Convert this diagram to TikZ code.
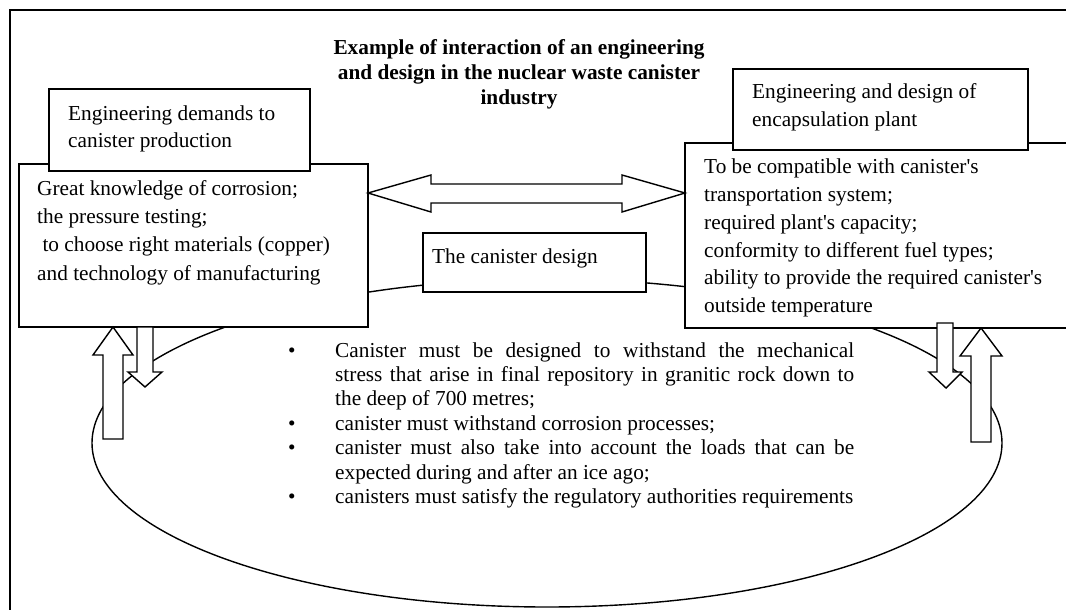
\documentclass[tikz,border=0pt]{standalone}
\usepackage{fontspec}
\setmainfont{Liberation Serif}[Ligatures=TeXOff]
\usetikzlibrary{calc}
\begin{document}
\begin{tikzpicture}[x=1pt,y=-1pt,
  box/.style={draw,fill=white,line width=1.4pt,inner sep=0pt,outer sep=0pt,anchor=north west},
  txt/.style={inner sep=0pt,anchor=north west,align=left},
  body/.style={font=\fontsize{21.3}{28.3}\selectfont},
  blk/.style={draw,fill=white,line width=1.4pt,line join=miter},
  ]
\useasboundingbox (0,0) rectangle (1066,610);
\clip (0,0) rectangle (1066,610);
\fill[white] (0,0) rectangle (1066,610);

% outer frame
\draw[line width=2pt] (1080,10) -- (10,10) -- (10,620);

% loop joining the three parties
\draw[line width=1.4pt] (547,443) ellipse [x radius=455, y radius=164];

% boxes
\node[box,minimum width=349pt,minimum height=163pt] (prod) at (19,164) {};
\node[box,minimum width=261pt,minimum height=82pt] (prodhead) at (49,89) {};
\node[box,minimum width=400pt,minimum height=185pt] (plant) at (685,143) {};
\node[box,minimum width=295pt,minimum height=81pt] (planthead) at (733,69) {};
\node[box,minimum width=223pt,minimum height=59pt] (design) at (423,233) {};

% double block arrow between the two parties
\coordinate (tipL) at (prod.east |- 0,193);
\coordinate (tipR) at (plant.west |- 0,193);
\draw[blk] (tipL) -- ++(63,-18) -- ++(0,9) -- ($(tipR)+(-63,-9)$) -- ++(0,-9)
  -- (tipR) -- ++(-63,19) -- ++(0,-9) -- ($(tipL)+(63,10)$) -- ++(0,9) -- cycle;

% block arrows at the left box
\coordinate (lup) at (prod.south -| 113,0);
\draw[blk] (lup) -- ++(20,28) -- ++(-10,0) -- ++(0,84) -- ++(-20,0) -- ++(0,-84) -- ++(-10,0) -- cycle;
\coordinate (ldown) at (prod.south -| 137,0);
\draw[blk] (ldown) -- ++(16,0) -- ++(0,45) -- ++(9,0) -- ++(-17,15) -- ++(-17,-15) -- ++(9,0) -- cycle;

% block arrows at the right box
\coordinate (rdown) at ($(plant.south -| 937,0)+(0,-5)$);
\draw[blk] (rdown) -- ++(16,0) -- ++(0,49) -- ++(9,0) -- ++(-16,16) -- ++(-17,-16) -- ++(8,0) -- cycle;
\coordinate (rup) at (plant.south -| 981,0);
\draw[blk] (rup) -- ++(21,28) -- ++(-11,0) -- ++(0,86) -- ++(-20,0) -- ++(0,-86) -- ++(-11,0) -- cycle;

% texts
\node[txt,anchor=north,align=center,font=\bfseries\fontsize{21.3}{25}\selectfont] (title) at (519,36.5)
  {\strut Example of interaction of an engineering\\and design in the nuclear waste canister\\industry};

\node[txt,font=\fontsize{21.3}{27.5}\selectfont] (prodheadtext) at (68,100.75)
  {\strut Engineering demands to\\canister production};

\node[txt,body] (prodtext) at (37,175.2)
  {\strut Great knowledge of corrosion;\\the pressure testing;\\\hspace*{5.3pt}to choose right materials (copper)\\and technology of manufacturing};

\node[txt,font=\fontsize{21.3}{28}\selectfont] (plantheadtext) at (752,78.4)
  {\strut Engineering and design of\\encapsulation plant};

\node[txt,font=\fontsize{21.3}{27.8}\selectfont] (planttext) at (704,154)
  {\strut To be compatible with canister's\\transportation system;\\required plant's capacity;\\conformity to different fuel types;\\ability to provide the required canister's\\outside temperature};

\node[inner sep=0pt,anchor=base west,body] (designtext) at (432,263) {The canister design};

\node[txt,font=\fontsize{21.3}{24.4}\selectfont] (reqs) at (288,339.9)
  {\strut\makebox[47pt][l]{•}\makebox[519pt][s]{Canister must be designed to withstand the mechanical}\\
   \hspace*{47pt}\makebox[519pt][s]{stress that arise in final repository in granitic rock down to}\\
   \hspace*{47pt}the deep of 700 metres;\\
   \makebox[47pt][l]{•}canister must withstand corrosion processes;\\
   \makebox[47pt][l]{•}\makebox[519pt][s]{canister must also take into account the loads that can be}\\
   \hspace*{47pt}expected during and after an ice ago;\\
   \makebox[47pt][l]{•}canisters must satisfy the regulatory authorities requirements};
\end{tikzpicture}
\end{document}
